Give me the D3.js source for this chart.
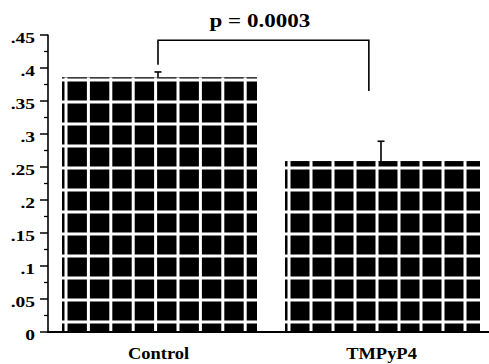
<!DOCTYPE html>
<html><head><meta charset="utf-8">
<script src="https://cdn.jsdelivr.net/npm/d3@7"></script>
<style>html,body{margin:0;padding:0;background:#fff;}svg{display:block;}</style>
</head><body>
<svg id="chart" width="489" height="364"></svg>
<script>
const categories = ["Control", "TMPyP4"];
const means = [0.386, 0.259];
const errors = [0.008, 0.030];
const yTickValues = [0, 0.05, 0.1, 0.15, 0.2, 0.25, 0.3, 0.35, 0.4, 0.45];
const yTickLabels = ["0", ".05", ".1", ".15", ".2", ".25", ".3", ".35", ".4", ".45"];
const yMinorTicks = [0.025, 0.075, 0.125, 0.175, 0.225, 0.275, 0.325, 0.375, 0.425];
const pLabel = "p = 0.0003";
const bracket = {top: 0.442, leftEnd: 0.405, rightEnd: 0.365};

const svg = d3.select("#chart");
const FONT = "'Liberation Serif','Times New Roman',serif";

const x = d3.scaleBand().domain(categories).range([62, 480]).paddingInner(0.1256).paddingOuter(0);
const y = d3.scaleLinear().domain([0, 0.45]).range([332, 35]);
const axisX = 48;

// bars
const defs = svg.append("defs");
categories.forEach((c, i) => {
  const x0 = x(c), w = x.bandwidth(), y0 = y(means[i]), y1 = y(0);
  defs.append("clipPath").attr("id", "clip" + i)
    .append("rect").attr("x", x0).attr("y", y0).attr("width", w).attr("height", y1 - y0);
  const g = svg.append("g");
  g.append("rect").attr("x", x0).attr("y", y0).attr("width", w).attr("height", y1 - y0).attr("fill", "#000");
  const lg = g.append("g").attr("clip-path", "url(#clip" + i + ")").attr("stroke", "#fff").attr("stroke-width", 3);
  const stepX = i === 0 ? 22.4 : 22.0;
  for (let xx = x0 + 4; xx < x0 + w - 2; xx += stepX) {
    lg.append("line").attr("x1", xx).attr("x2", xx).attr("y1", y0).attr("y2", y1);
  }
  for (let yy = y1 - 10; yy > y0 + 1; yy -= 22) {
    lg.append("line").attr("x1", x0).attr("x2", x0 + w).attr("y1", yy).attr("y2", yy);
  }
  // error bar
  const cx = x0 + w / 2 - 1.5;
  const ye = y(means[i] + errors[i]);
  svg.append("line").attr("x1", cx).attr("x2", cx).attr("y1", y0).attr("y2", ye)
    .attr("stroke", "#000").attr("stroke-width", 1.6);
  svg.append("line").attr("x1", cx - 3.5).attr("x2", cx + 3.5).attr("y1", ye).attr("y2", ye)
    .attr("stroke", "#000").attr("stroke-width", 1.6);
});

// axes
svg.append("line").attr("x1", axisX).attr("x2", 489).attr("y1", y(0)).attr("y2", y(0))
  .attr("stroke", "#000").attr("stroke-width", 2);
svg.append("line").attr("x1", axisX).attr("x2", axisX).attr("y1", y(0.45) - 0.5).attr("y2", y(0) + 1)
  .attr("stroke", "#000").attr("stroke-width", 1.6);
yTickValues.forEach((v, i) => {
  svg.append("line").attr("x1", axisX - 8).attr("x2", axisX).attr("y1", y(v)).attr("y2", y(v))
    .attr("stroke", "#000").attr("stroke-width", 1.5);
  svg.append("text").attr("transform", `translate(35,${y(v) + 7.5}) scale(1.3,1)`)
    .attr("text-anchor", "end").attr("font-family", FONT).attr("font-weight", "bold")
    .attr("font-size", 15).attr("fill", "#000").text(yTickLabels[i]);
});
yMinorTicks.forEach(v => {
  svg.append("line").attr("x1", axisX - 4).attr("x2", axisX).attr("y1", y(v)).attr("y2", y(v))
    .attr("stroke", "#000").attr("stroke-width", 1.3);
});

// x labels
categories.forEach(c => {
  svg.append("text").attr("transform", `translate(${x(c) + x.bandwidth() / 2 - 1},358.5) scale(1.12,1)`)
    .attr("text-anchor", "middle").attr("font-family", FONT).attr("font-weight", "bold")
    .attr("font-size", 16.5).attr("fill", "#000").text(c);
});

// significance bracket
const bl = x(categories[0]) + x.bandwidth() / 2 - 1.5;
const br = x(categories[1]) + x.bandwidth() * 0.43;
svg.append("path")
  .attr("d", `M${bl},${y(bracket.leftEnd)}V${y(bracket.top)}H${br}V${y(bracket.rightEnd)}`)
  .attr("fill", "none").attr("stroke", "#000").attr("stroke-width", 1.6);
svg.append("text").attr("transform", `translate(${(bl + br) / 2 - 3.5},26.8) scale(1.28,1)`)
  .attr("text-anchor", "middle").attr("font-family", FONT).attr("font-weight", "bold")
  .attr("font-size", 18).attr("fill", "#000").text(pLabel);
</script>
</body></html>
